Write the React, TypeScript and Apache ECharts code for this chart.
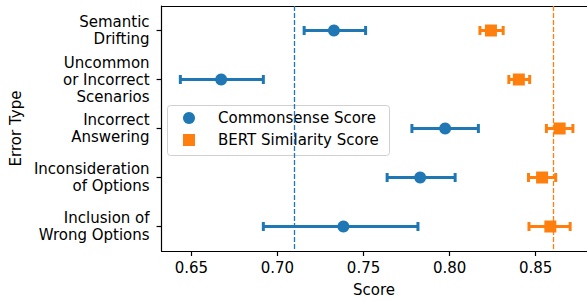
import React, { useEffect, useRef } from "react";
import * as echarts from "echarts";

const categories = [
  "Semantic\nDrifting",
  "Uncommon\nor Incorrect\nScenarios",
  "Incorrect\nAnswering",
  "Inconsideration\nof Options",
  "Inclusion of\nWrong Options",
];
const commonsenseMean = [0.7328, 0.6673, 0.7974, 0.7829, 0.7383];
const commonsenseLow = [0.7155, 0.6436, 0.7781, 0.7637, 0.6918];
const commonsenseHigh = [0.7512, 0.6918, 0.8167, 0.8032, 0.7816];
const bertMean = [0.824, 0.8402, 0.8639, 0.8537, 0.8585];
const bertLow = [0.8176, 0.8344, 0.8562, 0.8458, 0.8461];
const bertHigh = [0.8311, 0.8465, 0.8716, 0.8616, 0.87];
const commonsenseOverall = 0.7108;
const bertOverall = 0.8608;
const xTicks = [0.65, 0.7, 0.75, 0.8, 0.85];
const seriesNames = ["Commonsense Score", "BERT Similarity Score"];

const BLUE = "#1f77b4";
const ORANGE = "#ff7f0e";
const FONT = "DejaVu Sans";

function errorBarSeries(low: number[], high: number[], color: string) {
  return {
    type: "custom",
    silent: true,
    z: 2,
    encode: { x: [0, 1], y: 2 },
    data: low.map((l, i) => [l, high[i], i]),
    renderItem: (params: any, api: any) => {
      const a = api.coord([api.value(0), api.value(2)]);
      const b = api.coord([api.value(1), api.value(2)]);
      const cap = 4.5;
      const style = { stroke: color, lineWidth: 3, fill: "none" };
      return {
        type: "group",
        children: [
          { type: "line", shape: { x1: a[0], y1: a[1], x2: b[0], y2: b[1] }, style },
          { type: "line", shape: { x1: a[0], y1: a[1] - cap, x2: a[0], y2: a[1] + cap }, style },
          { type: "line", shape: { x1: b[0], y1: b[1] - cap, x2: b[0], y2: b[1] + cap }, style },
        ],
      };
    },
  };
}

export default function App() {
  const ref = useRef<HTMLDivElement>(null);
  useEffect(() => {
    if (!ref.current) return;
    const chart = echarts.init(ref.current, undefined, { renderer: "svg" });
    const textBase = { fontFamily: FONT, fontSize: 15, color: "#000" };
    chart.setOption({
      animation: false,
      textStyle: { fontFamily: FONT },
      grid: { left: 160, right: 0.5, top: 6, bottom: 48, containLabel: false },
      graphic: [
        {
          type: "rect",
          z: 3.5,
          silent: true,
          shape: { x: 167.5, y: 105.5, width: 222, height: 50, r: 3 },
          style: { fill: "rgba(255,255,255,0.8)", stroke: "#d0d0d0", lineWidth: 1 },
        },
      ],
      legend: {
        data: [
          { name: seriesNames[0], icon: "circle" },
          { name: seriesNames[1], icon: "rect" },
        ],
        orient: "vertical",
        left: 167,
        top: 105,
        itemWidth: 12,
        itemHeight: 12,
        itemGap: 6,
        padding: [5, 9, 7, 16],
        z: 4,
        itemStyle: { opacity: 1 },
        textStyle: { ...textBase, lineHeight: 16, padding: [0, 0, 0, 18] },
      },
      xAxis: [
        {
          type: "value",
          min: 0.6327,
          max: 0.8795,
          name: "Score",
          nameLocation: "middle",
          nameGap: 31,
          nameTextStyle: textBase,
          splitLine: { show: false },
          axisLine: { show: true, lineStyle: { color: "#000", width: 1.2 } },
          axisTick: { show: true, length: 5, lineStyle: { color: "#000", width: 1.2 }, customValues: xTicks },
          axisLabel: { ...textBase, margin: 9, customValues: xTicks, formatter: (v: number) => v.toFixed(2) },
        },
        {
          type: "value",
          position: "top",
          min: 0.6327,
          max: 0.8795,
          splitLine: { show: false },
          axisLine: { show: true, lineStyle: { color: "#000", width: 1.2 } },
          axisTick: { show: false },
          axisLabel: { show: false },
        },
      ],
      yAxis: {
        type: "category",
        data: categories,
        inverse: true,
        name: "Error Type",
        nameLocation: "middle",
        nameGap: 137,
        nameRotate: 90,
        nameTextStyle: textBase,
        axisLine: { show: true, lineStyle: { color: "#000", width: 1.2 } },
        axisTick: { show: true, alignWithLabel: true, length: 5, lineStyle: { color: "#000", width: 1.2 } },
        axisLabel: { ...textBase, margin: 12, lineHeight: 17, align: "right" },
        splitLine: { show: false },
      },
      series: [
        errorBarSeries(commonsenseLow, commonsenseHigh, BLUE),
        errorBarSeries(bertLow, bertHigh, ORANGE),
        {
          name: seriesNames[0],
          type: "scatter",
          symbol: "circle",
          symbolSize: 12,
          z: 3,
          itemStyle: { color: BLUE, opacity: 1 },
          data: commonsenseMean.map((v, i) => [v, i]),
          markLine: {
            silent: true,
            symbol: "none",
            label: { show: false },
            lineStyle: { color: BLUE, type: [5, 2], width: 1.3, opacity: 1 },
            data: [{ xAxis: commonsenseOverall }],
          },
        },
        {
          name: seriesNames[1],
          type: "scatter",
          symbol: "rect",
          symbolSize: 12,
          z: 3,
          itemStyle: { color: ORANGE, opacity: 1 },
          data: bertMean.map((v, i) => [v, i]),
          markLine: {
            silent: true,
            symbol: "none",
            label: { show: false },
            lineStyle: { color: ORANGE, type: [5, 2], width: 1.3, opacity: 1 },
            data: [{ xAxis: bertOverall }],
          },
        },
      ],
    });
    return () => chart.dispose();
  }, []);
  return (
    <div
      ref={ref}
      style={{ position: "fixed", left: 0, top: 0, width: 587, height: 302, background: "#fff" }}
    />
  );
}
